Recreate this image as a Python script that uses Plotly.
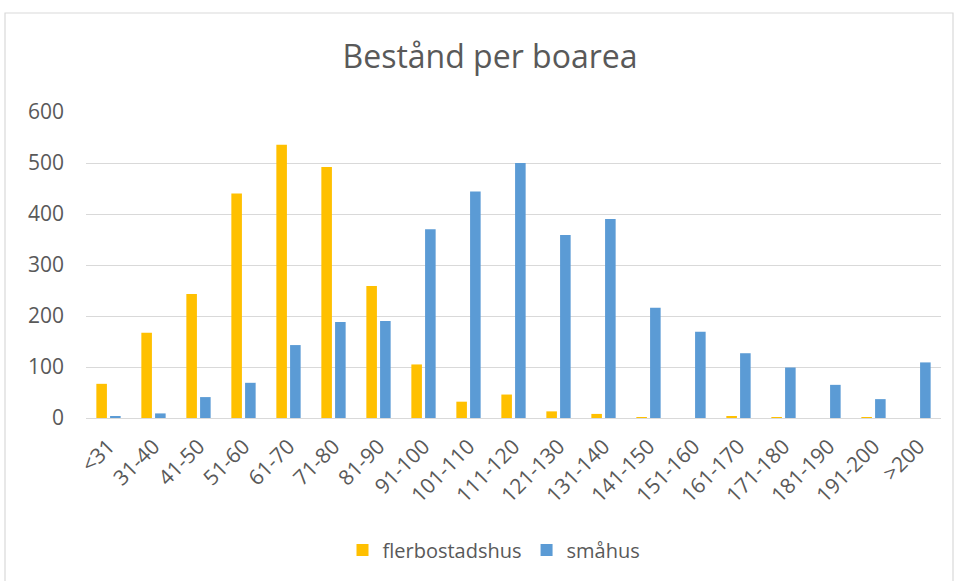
import plotly.graph_objects as go

categories = ["<31", "31-40", "41-50", "51-60", "61-70", "71-80", "81-90", "91-100",
              "101-110", "111-120", "121-130", "131-140", "141-150", "151-160",
              "161-170", "171-180", "181-190", "191-200", ">200"]
flerbostadshus = [67, 167, 243, 440, 536, 492, 259, 105, 32, 46, 13, 8, 1, 0, 3, 0.5, 0, 0.5, 0]
smahus = [3, 9, 41, 69, 143, 188, 190, 370, 444, 500, 359, 390, 216, 169, 127, 99, 65, 37, 109]
y_ticks = [0, 100, 200, 300, 400, 500, 600]

TXT = "#595959"
FONT = "Open Sans"

fig = go.Figure()
fig.add_trace(go.Bar(x=categories, y=flerbostadshus, name="flerbostadshus",
                     marker=dict(color="#FFC000", line=dict(width=0))))
fig.add_trace(go.Bar(x=categories, y=smahus, name="småhus",
                     marker=dict(color="#5B9BD5", line=dict(width=0))))

W, H = 958, 581
L, R, T, B = 86, 17, 112, 163
pw, ph = W - L - R, H - T - B

def px_x(x):
    return (x - L) / pw

def px_y(y):
    return (H - B - y) / ph

fig.update_layout(
    width=W, height=H,
    margin=dict(l=L, r=R, t=T, b=B),
    paper_bgcolor="white", plot_bgcolor="white",
    barmode="group", bargap=0.39, bargroupgap=0.23,
    font=dict(family=FONT, color=TXT, size=20),
    title=dict(text="Bestånd per boarea", font=dict(family=FONT, size=32, color=TXT),
               x=490 / W, xref="container", xanchor="center",
               y=1 - 57 / H, yref="container", yanchor="middle"),
    legend=dict(orientation="h", x=px_x(494), xanchor="center", y=px_y(550), yanchor="middle",
                font=dict(size=20, color=TXT), itemwidth=30, traceorder="normal"),
    xaxis=dict(tickangle=-45, showgrid=False, showline=False, ticks="",
               tickfont=dict(size=21, color=TXT), ticklabelstandoff=11),
    yaxis=dict(range=[0, 600], tickvals=y_ticks, showgrid=True, gridcolor="#D9D9D9",
               gridwidth=1.3, zeroline=True, zerolinecolor="#D9D9D9", zerolinewidth=1.3,
               showline=False, ticks="", tickfont=dict(size=21, color=TXT),
               ticklabelstandoff=21),
    shapes=[dict(type="rect", xref="paper", yref="paper",
                 x0=px_x(5), x1=px_x(953), y0=px_y(590), y1=px_y(13),
                 line=dict(color="#D9D9D9", width=1.2), fillcolor="rgba(0,0,0,0)", layer="below")],
)

fig.write_html("out.html", config={"displayModeBar": False},
               post_script="document.body.style.margin='0';document.body.style.overflow='hidden';")
